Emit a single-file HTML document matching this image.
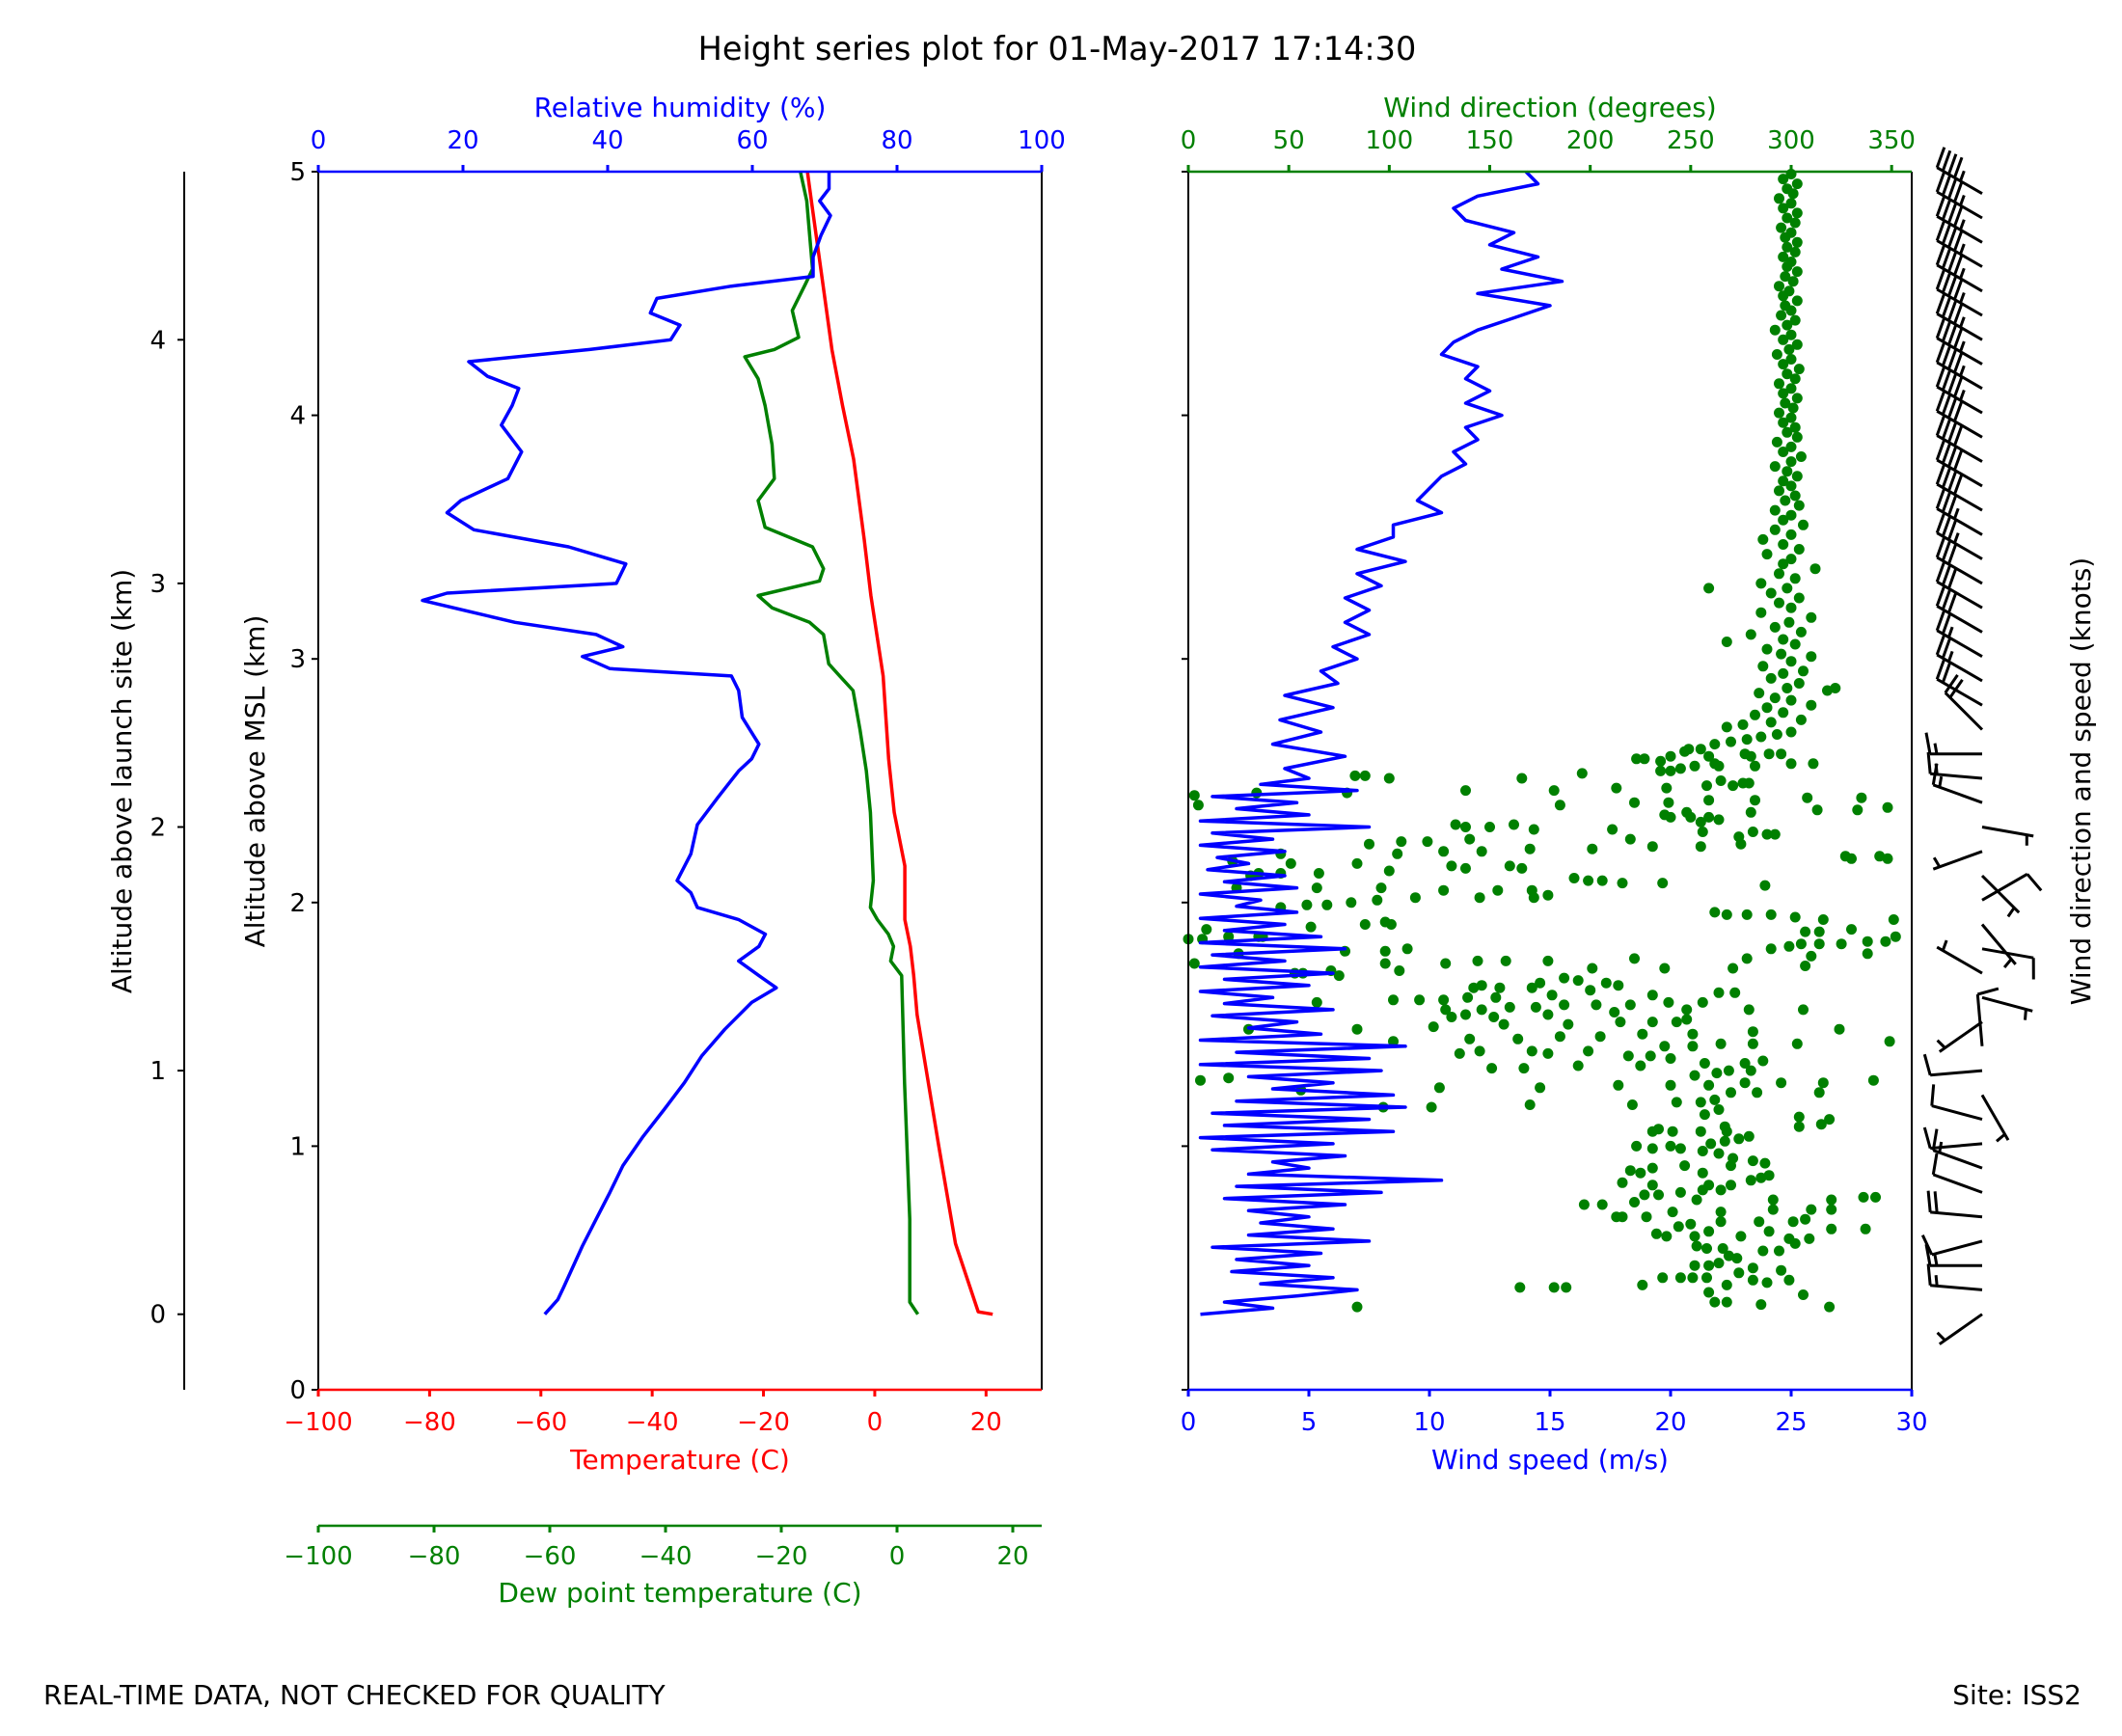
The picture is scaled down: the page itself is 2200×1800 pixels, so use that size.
<!DOCTYPE html>
<html><head><meta charset="utf-8"><style>
body{margin:0;background:#fff;}
svg{display:block;font-family:"DejaVu Sans","Liberation Sans",sans-serif;}
</style></head><body>
<svg id="chart" width="2200" height="1800" viewBox="0 0 2200 1800" xmlns="http://www.w3.org/2000/svg">
<rect width="2200" height="1800" fill="#fff"/>
<text x="1096" y="62" font-size="33.5" text-anchor="middle">Height series plot for 01-May-2017 17:14:30</text>
<text x="45" y="1767" font-size="28">REAL-TIME DATA, NOT CHECKED FOR QUALITY</text>
<text x="2158" y="1767" font-size="28" text-anchor="end">Site: ISS2</text>
<g id="g"></g>
</svg>
<script>
// ---- data ----
const tempAlt=[0.31,0.32,0.60,1.00,1.54,1.70,1.82,1.93,2.15,2.37,2.59,2.93,3.26,3.49,3.82,4.04,4.27,4.60,4.88,5.0];
const tempVal=[21.2,18.6,14.5,11.5,7.6,7.0,6.4,5.4,5.4,3.5,2.5,1.5,-0.7,-1.9,-3.8,-5.8,-7.7,-9.7,-11.4,-12.1];
const rhAlt=[0.31,0.37,0.42,0.59,0.70,0.81,0.92,1.04,1.15,1.26,1.37,1.48,1.59,1.65,1.70,1.76,1.82,1.87,1.93,1.98,2.04,2.09,2.20,2.32,2.43,2.54,2.59,2.65,2.76,2.87,2.93,2.96,3.01,3.05,3.10,3.15,3.24,3.27,3.31,3.39,3.46,3.53,3.60,3.65,3.74,3.85,3.96,4.04,4.11,4.16,4.22,4.27,4.31,4.37,4.42,4.48,4.53,4.57,4.65,4.74,4.82,4.88,4.93,5.0];
const rhVal=[31.3,33.1,33.9,36.5,38.4,40.3,42.1,44.9,47.8,50.6,53.0,56.2,59.9,63.3,60.9,58.1,60.9,61.8,58.1,52.4,51.5,49.6,51.5,52.4,55.2,58.1,59.9,60.9,58.6,58.1,57.1,40.3,36.5,42.1,38.4,27.2,14.4,17.8,41.2,42.5,34.6,21.5,17.8,19.7,26.2,28.1,25.3,26.8,27.7,23.4,20.8,37.5,48.7,50.0,45.9,46.8,57.1,68.4,68.4,69.5,70.8,69.3,70.6,70.6];
const dewAlt=[0.31,0.36,0.70,1.26,1.70,1.76,1.82,1.87,1.93,1.98,2.09,2.37,2.54,2.71,2.87,2.93,2.98,3.10,3.15,3.21,3.26,3.32,3.37,3.46,3.54,3.65,3.74,3.88,4.04,4.15,4.24,4.27,4.32,4.43,4.54,4.60,4.88,5.0];
const dewVal=[3.6,2.2,2.2,1.3,0.8,-1.1,-0.6,-1.5,-3.4,-4.6,-4.1,-4.6,-5.3,-6.4,-7.6,-9.9,-11.8,-12.7,-15.1,-21.6,-24.0,-13.4,-12.7,-14.6,-22.8,-24.0,-21.2,-21.6,-22.8,-24.0,-26.3,-21.2,-17.0,-18.1,-15.8,-14.6,-15.6,-16.7];
// wind speed: low layer sampled every 0.025 km from 0.31 km; upper layer every 0.05 km from 2.55 km
const lowSpd=[0.5,3.5,1.5,4.5,7.0,3.0,6.0,1.8,5.0,2.0,5.5,1.0,7.5,2.5,6.0,3.0,5.0,2.5,6.5,1.5,8.0,2.0,10.5,2.5,5.0,3.5,6.5,1.0,6.0,0.5,8.5,1.5,7.5,1.0,9.0,2.0,8.5,3.5,6.0,2.5,8.0,0.5,7.5,2.0,9.0,0.5,5.5,2.5,4.5,1.0,6.0,1.5,3.5,0.5,5.0,1.5,6.0,0.5,4.0,1.0,6.5,0.5,5.5,1.5,4.0,0.5,4.5,2.0,3.0,0.5,4.5,1.5,4.0,0.8,2.5,1.2,4.0,0.5,3.5,1.0,7.5,0.5,5.0,2.0,4.5,1.0,7.0,3.0,5.0];
const highSpd=[4.0,6.5,3.5,5.5,3.8,6.0,4.0,6.2,5.5,7.0,6.0,7.5,6.5,7.5,6.5,8.0,7.0,9.0,7.0,8.5,8.5,10.5,9.5,10.0,10.5,11.5,11.0,12.0,11.5,13.0,11.5,12.5,11.5,12.0,10.5,11.0,12.0,13.5,15.0,12.0,15.5,13.0,14.5,12.5,13.5,11.5,11.0,12.0,14.5,14.0];
const dirAlt=[0.34,0.42,0.42,0.42,0.43,0.46,0.46,0.46,0.46,0.40,0.36,0.36,0.43,0.48,0.45,0.35,0.44,0.49,0.45,0.39,0.34,0.51,0.51,0.52,0.55,0.54,0.50,0.57,0.57,0.62,0.60,0.62,0.58,0.63,0.59,0.58,0.63,0.65,0.69,0.68,0.67,0.63,0.64,0.71,0.77,0.71,0.71,0.76,0.76,0.73,0.73,0.69,0.65,0.69,0.70,0.66,0.66,0.74,0.74,0.74,0.78,0.78,0.79,0.79,0.78,0.81,0.80,0.80,0.84,0.82,0.82,0.84,0.84,0.86,0.87,0.88,0.85,0.90,0.89,0.91,0.92,0.89,0.92,0.94,0.93,1.00,0.99,1.00,0.99,0.98,0.97,0.95,1.01,1.02,1.03,1.04,1.06,1.06,1.07,1.06,1.06,1.08,1.12,1.08,1.09,1.11,1.13,1.15,1.18,1.18,1.17,1.17,1.16,1.16,1.19,1.22,1.22,1.26,1.22,1.26,1.27,1.25,1.25,1.24,1.24,1.23,1.27,1.28,1.29,1.25,1.26,1.31,1.31,1.30,1.34,1.34,1.35,1.33,1.32,1.32,1.33,1.37,1.36,1.37,1.41,1.41,1.42,1.42,1.42,1.43,1.48,1.47,1.46,1.46,1.45,1.45,1.44,1.44,1.43,1.38,1.39,1.39,1.38,1.39,1.48,1.48,1.49,1.50,1.50,1.51,1.51,1.51,1.52,1.56,1.56,1.56,1.59,1.59,1.58,1.58,1.58,1.57,1.57,1.56,1.54,1.56,1.53,1.53,1.54,1.60,1.60,1.60,1.61,1.61,1.62,1.55,1.62,1.63,1.63,1.59,1.65,1.66,1.65,1.65,1.67,1.69,1.68,1.64,1.67,1.66,1.73,1.73,1.77,1.76,1.76,1.76,1.75,1.72,1.75,1.80,1.81,1.80,1.72,1.70,1.71,1.71,1.75,1.79,1.73,1.77,1.81,1.82,1.78,1.74,1.79,1.84,1.84,1.86,1.83,1.83,1.83,1.88,1.88,1.89,1.93,1.93,1.94,1.95,1.95,1.95,1.96,2.07,2.08,2.08,2.09,2.09,2.10,2.03,2.02,2.05,2.05,2.02,2.05,2.02,2.01,2.06,2.00,1.99,1.99,1.98,1.90,1.91,1.92,1.91,1.86,1.86,1.86,1.85,1.89,1.85,2.06,2.06,2.12,2.12,2.12,2.11,2.16,2.20,2.17,2.16,2.13,2.20,2.24,2.25,2.25,2.21,2.15,2.14,2.21,2.26,2.15,2.14,2.22,2.22,2.23,2.23,2.24,2.27,2.29,2.28,2.28,2.26,2.30,2.30,2.32,2.31,2.31,2.32,2.19,2.18,2.19,2.18,2.29,2.33,2.34,2.35,2.37,2.35,2.36,2.35,2.41,2.41,2.42,2.42,2.37,2.43,2.38,2.38,2.43,2.39,2.47,2.48,2.50,2.48,2.49,2.49,2.47,2.46,2.40,2.46,2.51,2.53,2.44,2.40,2.45,2.45,2.52,2.52,2.51,2.59,2.59,2.58,2.60,2.54,2.54,2.55,2.56,2.57,2.56,2.60,2.61,2.60,2.56,2.61,2.61,2.57,2.57,2.63,2.63,
2.62,3.07,3.29,2.88,
2.65,2.66,2.67,2.68,2.69,2.70,2.72,2.73,2.74,2.75,2.77,2.78,2.80,2.81,2.83,2.84,2.86,2.87,2.88,2.90,2.92,2.94,2.95,2.97,2.99,3.01,3.02,3.04,3.06,3.08,3.10,3.11,3.13,3.15,3.17,3.19,3.21,3.23,3.25,3.27,3.29,3.31,3.33,3.35,3.37,3.39,3.41,3.43,3.45,3.47,3.49,3.51,3.53,3.55,3.57,3.59,3.61,3.63,3.65,3.67,3.69,3.71,3.73,3.75,3.77,3.79,3.81,3.83,3.85,3.87,3.89,3.91,3.93,3.95,3.97,3.99,4.01,4.03,4.05,4.07,4.09,4.11,4.13,4.15,4.17,4.19,4.21,4.23,4.25,4.27,4.29,4.31,4.33,4.35,4.37,4.39,4.41,4.43,4.45,4.47,4.49,4.51,4.53,4.55,4.57,4.59,4.61,4.63,4.65,4.67,4.69,4.71,4.73,4.75,4.77,4.79,4.81,4.83,4.85,4.87,4.89,4.91,4.93,4.95,4.97,4.99];
const dirDeg=[84,165,182,188,226,236,245,251,258,259,262,268,268,274,281,285,288,295,299,306,319,252,259,264,269,273,281,286,294,299,302,309,266,275,253,258,252,259,265,250,244,238,233,228,222,213,216,197,206,241,265,284,289,301,307,320,337,320,310,291,291,320,336,342,253,245,234,227,231,256,265,270,259,280,285,289,216,220,225,231,247,256,270,281,287,223,231,240,245,256,264,271,260,267,274,279,268,231,234,241,255,267,304,304,315,319,257,264,255,243,221,170,121,97,262,270,283,295,314,316,341,214,240,175,125,56,6,20,252,259,277,280,269,263,257,277,286,194,167,151,225,230,240,219,237,251,265,281,303,349,324,281,251,226,205,185,164,140,102,135,145,171,179,199,30,84,122,157,189,215,231,243,248,248,279,306,256,239,220,203,187,173,160,146,138,128,131,152,179,102,115,127,139,153,181,212,231,264,272,64,142,146,155,171,175,187,194,200,208,214,201,237,222,179,158,144,128,105,98,98,109,78,71,75,53,57,3,25,271,278,290,299,310,307,338,338,347,352,314,325,305,307,314,330,351,316,302,290,278,268,262,287,236,216,206,199,192,179,172,171,154,145,127,113,94,96,81,69,59,46,61,88,98,101,37,35,20,7,9,0,24,64,65,46,35,31,51,46,22,84,100,104,90,106,119,127,131,138,146,140,160,166,170,201,231,255,275,274,281,288,292,220,211,172,162,150,138,133,327,330,344,348,256,255,264,259,248,250,237,240,222,239,259,282,280,308,313,333,335,348,238,258,265,271,276,279,213,182,185,138,166,196,3,5,34,79,83,88,100,223,227,235,240,235,240,245,252,262,264,259,277,280,282,289,295,300,311,249,255,
247,268,259,322,
262,270,278,285,293,300,268,276,290,305,282,296,288,310,300,292,284,318,298,304,290,296,306,286,300,310,295,288,302,296,280,305,292,299,310,285,300,294,304,290,298,285,302,294,312,296,300,288,304,296,286,300,292,306,296,300,292,304,297,302,294,300,296,303,298,292,300,305,296,300,293,303,298,302,296,300,294,301,297,303,296,300,294,302,298,304,296,300,293,299,303,296,300,292,298,302,295,300,297,303,296,299,294,301,297,303,298,300,296,302,298,303,297,300,295,302,298,303,296,300,294,301,298,303,296,300];
// wind barbs: one per 0.1 km above launch site (knots)
const barbDir=[235,275,270,255,275,290,290,265,285,150,265,355,235,105,300,100,140,60,135,250,100,290,275,270,315,300,300,300,300,300,300,300,300,300,300,300,300,300,300,300,300,300,300,300,300,300,300];
const barbSpd=[5,15,15,10,20,10,15,10,10,5,10,10,5,5,5,10,5,10,5,5,5,15,15,15,20,20,25,25,30,30,30,35,35,40,40,40,40,45,45,45,45,45,45,45,45,45,45];
const mslTicks=[0,1,2,3,4,5];
const launchTicks=[0,1,2,3,4];
const rhTicks=[0,20,40,60,80,100];
const tempTicks=[-100,-80,-60,-40,-20,0,20];
const dewTicks=[-100,-80,-60,-40,-20,0,20];
const spdTicks=[0,5,10,15,20,25,30];
const dirTicks=[0,50,100,150,200,250,300,350];

// ---- layout ----
const NS='http://www.w3.org/2000/svg';
const G=document.getElementById('g');
const L0=330,L1=1080,R0=1232,R1=1982,TOP=178,BOT=1441;
const yA=a=>BOT-a*(BOT-TOP)/5;
const xT=t=>L0+(t+100)*(L1-L0)/130;
const xRH=r=>L0+r*(L1-L0)/100;
const xD=t=>L0+(t+100)*(L1-L0)/125;
const xS=s=>R0+s*(R1-R0)/30;
const xDir=d=>R0+d*(R1-R0)/360;
const LAUNCH=0.31;
const FS=26, LS=28;
function el(tag,attrs,txt){const e=document.createElementNS(NS,tag);for(const k in attrs)e.setAttribute(k,attrs[k]);if(txt!==undefined)e.textContent=txt;G.appendChild(e);return e;}
function line(x1,y1,x2,y2,c,w){return el('line',{x1,y1,x2,y2,stroke:c,'stroke-width':w||2});}
function txt(x,y,s,c,anchor,size){return el('text',{x,y,fill:c||'#000','font-size':size||FS,'text-anchor':anchor||'middle'},s);}
function poly(xs,ys,c,w){let d='';for(let i=0;i<xs.length;i++)d+=(i?'L':'M')+xs[i].toFixed(1)+' '+ys[i].toFixed(1);return el('path',{d,fill:'none',stroke:c,'stroke-width':w,'stroke-linejoin':'round'});}

// ---- series left panel ----
let p;
p=poly(tempVal.map(xT),tempAlt.map(yA),'#ff0000',3.5);


p=poly(dewVal.map(xD),dewAlt.map(yA),'#008000',3.5);


p=poly(rhVal.map(xRH),rhAlt.map(yA),'#0000ff',3.5);



// ---- right panel: wind direction dots then wind speed ----
for(let i=0;i<dirDeg.length;i++){
  const c=el('circle',{cx:xDir(dirDeg[i]).toFixed(1),cy:yA(dirAlt[i]).toFixed(1),r:5.5,fill:'#008000'});
  
  
}
{
  const xs=[],ys=[];
  lowSpd.forEach((v,i)=>{xs.push(xS(v));ys.push(yA(LAUNCH+i*0.025));});
  highSpd.forEach((v,i)=>{xs.push(xS(v));ys.push(yA(2.55+i*0.05));});
  p=poly(xs,ys,'#0000ff',3.5);
  
  
}

// ---- axes frames ----
function frame(x0,x1,topC,botC,name){
  let s=line(x0,TOP,x0,BOT,'#000',2);
  
  
  s=line(x1,TOP,x1,BOT,'#000',2);
  
  
  s=line(x0,TOP,x1,TOP,topC,2.5);
  
  
  s=line(x0,BOT,x1,BOT,botC,2.5);
  
  
}
frame(L0,L1,'#0000ff','#ff0000','left-panel');
frame(R0,R1,'#008000','#0000ff','right-panel');

// MSL y ticks
mslTicks.forEach(v=>{
  line(L0-7,yA(v),L0,yA(v),'#000',2);
  line(R0-7,yA(v),R0,yA(v),'#000',2);
  const t=txt(L0-13,yA(v)+9,String(v),'#000','end');
  
  
});
// launch site axis
{
  const s=line(191,TOP,191,BOT,'#000',2);
  
  
  launchTicks.forEach(v=>{
    const y=yA(v+LAUNCH);
    line(184,y,191,y,'#000',2);
    const t=txt(172,y+9,String(v),'#000','end');
    
    
  });
}
// RH top
rhTicks.forEach(v=>{line(xRH(v),TOP-7,xRH(v),TOP,'#0000ff',3);const t=txt(xRH(v),154,String(v),'#0000ff');});
// temp bottom
tempTicks.forEach(v=>{line(xT(v),BOT,xT(v),BOT+7,'#ff0000',3);const t=txt(xT(v),1483,v<0?'\u2212'+(-v):String(v),'#ff0000');});
// dew axis
{
  const s=line(L0,1582,L1,1582,'#008000',2.5);
  
  
  dewTicks.forEach(v=>{line(xD(v),1582,xD(v),1589,'#008000',3);const t=txt(xD(v),1622,v<0?'\u2212'+(-v):String(v),'#008000');});
}
// wind speed bottom, direction top
spdTicks.forEach(v=>{line(xS(v),BOT,xS(v),BOT+7,'#0000ff',3);const t=txt(xS(v),1483,String(v),'#0000ff');});
dirTicks.forEach(v=>{line(xDir(v),TOP-7,xDir(v),TOP,'#008000',3);const t=txt(xDir(v),154,String(v),'#008000');});

// axis titles
let a;
a=txt(705,121,'Relative humidity (%)','#0000ff','middle',LS);
a=txt(705,1523,'Temperature (C)','#ff0000','middle',LS);
a=txt(705,1661,'Dew point temperature (C)','#008000','middle',LS);
a=txt(1607,1523,'Wind speed (m/s)','#0000ff','middle',LS);
a=txt(1607,121,'Wind direction (degrees)','#008000','middle',LS);
a=txt(0,0,'Altitude above MSL (km)','#000','middle',LS);a.setAttribute('transform','translate(274,810) rotate(-90)');
a=txt(0,0,'Altitude above launch site (km)','#000','middle',LS);a.setAttribute('transform','translate(136,810) rotate(-90)');
a=txt(0,0,'Wind direction and speed (knots)','#000','middle',LS);a.setAttribute('transform','translate(2167,810) rotate(-90)');

// wind barbs
const BX=2055,LEN=54,SP=7,FL=22;
barbDir.forEach((d,k)=>{
  const y0=yA(LAUNCH+k*0.1);
  const r=d*Math.PI/180, ux=Math.sin(r), uy=-Math.cos(r);
  const fx=-uy, fy=ux;
  let path='M'+BX+' '+y0.toFixed(1)+'L'+(BX+ux*LEN).toFixed(1)+' '+(y0+uy*LEN).toFixed(1);
  let s=barbSpd[k], pos=0;
  const full=Math.floor(s/10), half=(s%10)>=5?1:0;
  if(full===0&&half)pos=1;
  for(let i=0;i<full;i++){const px=BX+ux*(LEN-pos*SP),py=y0+uy*(LEN-pos*SP);path+='M'+px.toFixed(1)+' '+py.toFixed(1)+'L'+(px+fx*FL+ux*4).toFixed(1)+' '+(py+fy*FL+uy*4).toFixed(1);pos++;}
  if(half){const px=BX+ux*(LEN-pos*SP),py=y0+uy*(LEN-pos*SP);path+='M'+px.toFixed(1)+' '+py.toFixed(1)+'L'+(px+fx*FL/2+ux*2).toFixed(1)+' '+(py+fy*FL/2+uy*2).toFixed(1);}
  const b=el('path',{d:path,stroke:'#000','stroke-width':3,fill:'none'});
  
  
});
</script>
</body></html>
